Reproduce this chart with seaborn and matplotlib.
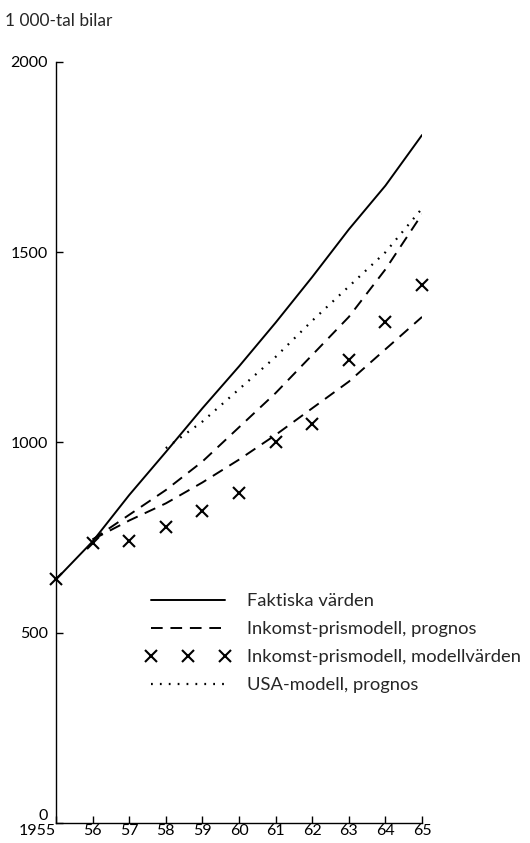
import numpy as np
import pandas as pd
import seaborn as sns
import matplotlib.pyplot as plt

# data (1 000-tal bilar)
years = [1955, 1956, 1957, 1958, 1959, 1960, 1961, 1962, 1963, 1964, 1965]
faktiska = [640, 740, 862, 975, 1090, 1200, 1315, 1435, 1560, 1675, 1808]

prognos_years = [1956, 1957, 1958, 1959, 1960, 1961, 1962, 1963, 1964, 1965]
prognos_hog = [745, 810, 875, 950, 1040, 1130, 1230, 1330, 1455, 1600]
prognos_lag = [745, 795, 840, 895, 955, 1020, 1090, 1160, 1245, 1330]

modell = [640, 736, 741, 778, 820, 867, 1001, 1049, 1217, 1317, 1415]

usa_years = [1958, 1959, 1960, 1961, 1962, 1963, 1964, 1965]
usa = [985, 1055, 1140, 1225, 1320, 1410, 1500, 1615]

tick_labels = ['1955', '56', '57', '58', '59', '60', '61', '62', '63', '64', '65']

sns.set_style("ticks")
plt.rcParams['font.family'] = ['Lato', 'DejaVu Sans']

fig = plt.figure(figsize=(5.3, 8.43), dpi=100)
ax = fig.add_axes([0.1057, 0.0237, 0.6906, 0.9028])

df_fakt = pd.DataFrame({'year': years, 'value': faktiska})
df_hog = pd.DataFrame({'year': prognos_years, 'value': prognos_hog})
df_lag = pd.DataFrame({'year': prognos_years, 'value': prognos_lag})
df_mod = pd.DataFrame({'year': years, 'value': modell})
df_usa = pd.DataFrame({'year': usa_years, 'value': usa})

sns.lineplot(data=df_fakt, x='year', y='value', ax=ax, color='black', lw=1.4,
             label='Faktiska värden')
sns.lineplot(data=df_hog, x='year', y='value', ax=ax, color='black', lw=1.4,
             label='Inkomst-prismodell, prognos')
ax.lines[-1].set_dashes([6, 4])
sns.lineplot(data=df_lag, x='year', y='value', ax=ax, color='black', lw=1.4)
ax.lines[-1].set_dashes([6, 4])
ax.plot(df_mod['year'], df_mod['value'], ls='none', marker='x', ms=8, mew=1.5,
        color='black', label='Inkomst-prismodell, modellvärden', clip_on=False, zorder=5)
sns.lineplot(data=df_usa, x='year', y='value', ax=ax, color='black', lw=1.6,
             label='USA-modell, prognos')
ax.lines[-1].set_linestyle((0, (0.8, 3.2)))

ax.set_xlim(1955, 1965)
ax.set_ylim(0, 2000)
ax.set_xticks(years)
ax.set_xticklabels(tick_labels)
ax.set_yticks([0, 500, 1000, 1500, 2000])
ax.set_xlabel('')
ax.set_ylabel('')
ax.tick_params(direction='in', length=5, width=1, labelsize=11.5, colors='black')
ax.tick_params(axis='y', pad=6)
ax.tick_params(axis='x', pad=1)
sns.despine(ax=ax)
for s in ['left', 'bottom']:
    ax.spines[s].set_linewidth(1)
    ax.spines[s].set_color('black')

# 1955 höger om, 0 lite upp
ax.get_xticklabels()[0].set_horizontalalignment('right')
ax.get_yticklabels()[0].set_verticalalignment('bottom')

fig.text(0.01, 0.985, '1 000-tal bilar', fontsize=12.5, va='top', ha='left')

leg = ax.legend(loc='upper left', bbox_to_anchor=(0.245, 0.302), frameon=False,
                borderpad=0, borderaxespad=0,
                handlelength=4.6, numpoints=3, fontsize=13.2, labelspacing=0.66,
                handletextpad=0.9)

plt.savefig('out.png', dpi=100)
